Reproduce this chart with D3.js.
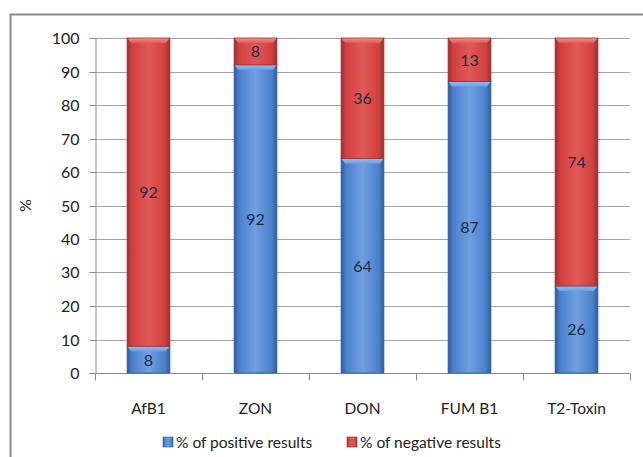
<!DOCTYPE html>
<html>
<head>
<meta charset="utf-8">
<script src="https://cdn.jsdelivr.net/npm/d3@7"></script>
<style>
  html, body { margin: 0; padding: 0; background: #fff; }
  svg { display: block; font-family: Lato, "Open Sans", sans-serif; }
</style>
</head>
<body>
<svg id="chart" width="643" height="457"></svg>
<script>
// Mycotoxin screening: share of positive / negative results per toxin
const categories = ["AfB1", "ZON", "DON", "FUM B1", "T2-Toxin"];
const positive = [8, 92, 64, 87, 26];
const negative = [92, 8, 36, 13, 74];
const yTicks = [0, 10, 20, 30, 40, 50, 60, 70, 80, 90, 100];
const seriesNames = ["% of positive results", "% of negative results"];

const svg = d3.select("#chart");
const W = 643, H = 457;
const margin = { left: 95, right: 13, top: 38, bottom: 84 };

const x = d3.scaleBand().domain(categories)
  .range([margin.left, W - margin.right]).paddingInner(0.6).paddingOuter(0.3);
const xOuter = d3.scaleBand().domain(categories)
  .range([margin.left, W - margin.right]).padding(0);
const y = d3.scaleLinear().domain([0, 100]).range([H - margin.bottom, margin.top]);

const colors = {
  pos: { base: "#4a80cc", light: "#6f9fe0", dark: "#2e5c9e", top: "#8fb8ee" },
  neg: { base: "#d2403f", light: "#e05a58", dark: "#a02c2c", top: "#ee8b88" }
};

// gradients giving the bars their rounded, bevelled look
const defs = svg.append("defs");
Object.entries(colors).forEach(([k, c]) => {
  const g = defs.append("linearGradient").attr("id", "grad-" + k)
    .attr("x1", "0").attr("x2", "1").attr("y1", "0").attr("y2", "0");
  g.append("stop").attr("offset", "0").attr("stop-color", c.dark);
  g.append("stop").attr("offset", "0.12").attr("stop-color", c.base);
  g.append("stop").attr("offset", "0.5").attr("stop-color", c.light);
  g.append("stop").attr("offset", "0.88").attr("stop-color", c.base);
  g.append("stop").attr("offset", "1").attr("stop-color", c.dark);
  const t = defs.append("linearGradient").attr("id", "top-" + k)
    .attr("x1", "0").attr("x2", "0").attr("y1", "0").attr("y2", "1");
  t.append("stop").attr("offset", "0").attr("stop-color", c.top);
  t.append("stop").attr("offset", "1").attr("stop-color", c.light);
});

// outer frame
svg.append("rect").attr("x", 10.5).attr("y", 14.5).attr("width", 660).attr("height", 470)
  .attr("fill", "none").attr("stroke", "#8c8c8c").attr("stroke-width", 2);

// horizontal gridlines
svg.append("g").selectAll("line").data(yTicks.filter(d => d > 0)).join("line")
  .attr("x1", margin.left).attr("x2", W - margin.right)
  .attr("y1", d => Math.round(y(d)) + 0.5).attr("y2", d => Math.round(y(d)) + 0.5)
  .attr("stroke", "#a6a6a6").attr("stroke-width", 1);

// y axis
const yAxis = svg.append("g").attr("transform", `translate(${margin.left + 0.5},0)`)
  .call(d3.axisLeft(y).tickValues(yTicks).tickSize(6).tickPadding(10));
yAxis.select(".domain").attr("stroke", "#8c8c8c");
yAxis.selectAll(".tick line").attr("stroke", "#8c8c8c");
yAxis.selectAll(".tick text").attr("font-size", 16).attr("fill", "#222")
  .attr("font-family", "Lato, sans-serif");
yAxis.selectAll(".tick").attr("transform", d => `translate(0,${Math.round(y(d)) + 0.5})`);

// x axis line and category separators
const xBase = Math.round(y(0)) + 0.5;
svg.append("line").attr("x1", margin.left).attr("x2", W - margin.right)
  .attr("y1", xBase).attr("y2", xBase).attr("stroke", "#8c8c8c");
const seps = categories.map(c => xOuter(c)).concat([xOuter(categories[categories.length - 1]) + xOuter.bandwidth()]);
svg.append("g").selectAll("line").data(seps).join("line")
  .attr("x1", d => Math.round(d) + 0.5).attr("x2", d => Math.round(d) + 0.5)
  .attr("y1", xBase).attr("y2", xBase + 7).attr("stroke", "#8c8c8c");

svg.append("g").selectAll("text").data(categories).join("text")
  .attr("x", d => x(d) + x.bandwidth() / 2).attr("y", xBase + 40)
  .attr("text-anchor", "middle").attr("font-size", 15.5).attr("fill", "#222")
  .text(d => d);

// y axis title
svg.append("text").attr("transform", `translate(31,${y(50)}) rotate(-90)`)
  .attr("text-anchor", "middle").attr("font-size", 16).attr("fill", "#222").text("%");

// stacked segments
const stacked = d3.stack().keys(["pos", "neg"])(
  categories.map((c, i) => ({ cat: c, pos: positive[i], neg: negative[i] })));

const bevel = 5, inset = 4;
stacked.forEach(layer => {
  const k = layer.key;
  const g = svg.append("g");
  layer.forEach(seg => {
    const x0 = x(seg.data.cat), bw = x.bandwidth();
    const yTop = y(seg[1]), yBot = y(seg[0]);
    g.append("rect").attr("x", x0).attr("y", yTop).attr("width", bw).attr("height", yBot - yTop)
      .attr("fill", `url(#grad-${k})`).attr("stroke", colors[k].dark).attr("stroke-width", 0.8);
    const p = d3.path();
    p.moveTo(x0 + 0.5, yTop + 0.5);
    p.lineTo(x0 + bw - 0.5, yTop + 0.5);
    p.lineTo(x0 + bw - inset, yTop + bevel);
    p.lineTo(x0 + inset, yTop + bevel);
    p.closePath();
    g.append("path").attr("d", p.toString()).attr("fill", `url(#top-${k})`);
    g.append("text").attr("x", x0 + bw / 2).attr("y", (yTop + yBot) / 2 + 6)
      .attr("text-anchor", "middle").attr("font-size", 16).attr("fill", "#1c2a48")
      .text(seg.data[k]);
  });
});

// legend
const legend = svg.append("g");
const legendX = [163, 347];
["pos", "neg"].forEach((k, i) => {
  legend.append("rect").attr("x", legendX[i]).attr("y", 437).attr("width", 10).attr("height", 10)
    .attr("fill", `url(#grad-${k})`).attr("stroke", colors[k].dark).attr("stroke-width", 0.6);
  legend.append("text").attr("x", legendX[i] + 13).attr("y", 447.5)
    .attr("font-size", 15.5).attr("fill", "#222").text(seriesNames[i]);
});
</script>
</body>
</html>
